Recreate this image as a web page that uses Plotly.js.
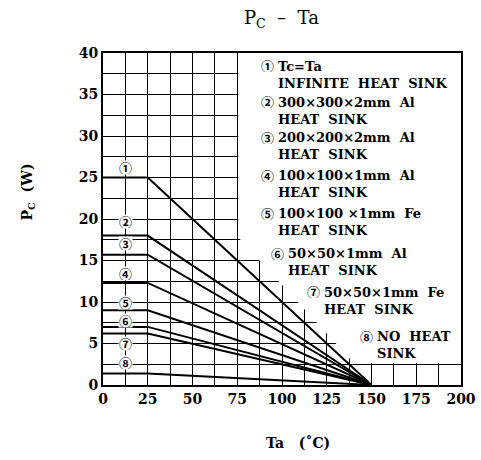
<!DOCTYPE html>
<html>
<head>
<meta charset="utf-8">
<script src="https://cdn.plot.ly/plotly-3.0.1.min.js"></script>
<style>html,body{margin:0;padding:0;background:#fff;}</style>
</head>
<body>
<div id="chart" style="width:481px;height:460px;"></div>
<script>
// Data
const ta = [0, 25, 150];
const pcInfinite = [25, 25, 0];
const pcAl300 = [18, 18, 0];
const pcAl200 = [15.7, 15.7, 0];
const pcAl100 = [12.3, 12.3, 0];
const pcFe100 = [9, 9, 0];
const pcAl50 = [7, 7, 0];
const pcFe50 = [6.2, 6.2, 0];
const pcNoSink = [1.4, 1.4, 0];
const seriesValues = [pcInfinite, pcAl300, pcAl200, pcAl100, pcFe100, pcAl50, pcFe50, pcNoSink];
const markers = ['①','②','③','④','⑤','⑥','⑦','⑧'];
const markerY = [26.2, 19.7, 17.1, 13.4, 10.0, 7.8, 5.0, 2.7];
const legendLine1 = ['Tc=Ta', '300×300×2mm\u00a0\u00a0Al', '200×200×2mm\u00a0\u00a0Al', '100×100×1mm\u00a0\u00a0Al',
  '100×100\u00a0×1mm\u00a0\u00a0Fe', '50×50×1mm\u00a0\u00a0Al', '50×50×1mm\u00a0\u00a0Fe', 'NO\u00a0\u00a0HEAT'];
const legendLine2 = ['INFINITE\u00a0\u00a0HEAT\u00a0\u00a0SINK', 'HEAT\u00a0\u00a0SINK', 'HEAT\u00a0\u00a0SINK', 'HEAT\u00a0\u00a0SINK',
  'HEAT\u00a0\u00a0SINK', 'HEAT\u00a0\u00a0SINK', 'HEAT\u00a0\u00a0SINK', 'SINK'];
const legendX = [96.8, 96.8, 96.8, 96.8, 96.8, 102.0, 122.6, 151.8];
const legendY = [37.4, 33.07, 28.81, 24.23, 19.61, 14.80, 10.18, 4.80];
const xTickVals = [0, 25, 50, 75, 100, 125, 150, 175, 200];
const yTickVals = [0, 5, 10, 15, 20, 25, 30, 35, 40];

const serif = 'DejaVu Serif, Liberation Serif, serif';
const circFont = 'Noto Sans CJK JP, Noto Sans CJK SC, DejaVu Sans, sans-serif';

const traces = seriesValues.map(v => ({
  x: ta, y: v, type: 'scatter', mode: 'lines',
  line: {color: '#000', width: 2}, hoverinfo: 'skip', showlegend: false
}));

const annotations = [];
markers.forEach((m, i) => {
  annotations.push({
    x: 12.5, y: markerY[i], xref: 'x', yref: 'y', text: m, showarrow: false,
    font: {family: circFont, size: 13, color: '#000', weight: 'bold'},
    bgcolor: '#fff', borderpad: 0, height: 13, width: 13
  });
  annotations.push({
    x: legendX[i], y: legendY[i], xref: 'x', yref: 'y', xanchor: 'left', yanchor: 'middle',
    align: 'left', text: legendLine1[i] + '<br>' + legendLine2[i], showarrow: false,
    font: {family: serif, size: 13, color: '#000', weight: 'bold'}
  });
  annotations.push({
    x: legendX[i], y: legendY[i] + 1.07, xref: 'x', yref: 'y', xanchor: 'right', yanchor: 'middle',
    text: m, showarrow: false, xshift: 0, height: 13,
    font: {family: circFont, size: 13, color: '#000', weight: 'bold'}
  });
});
annotations.push({
  x: -0.24, y: 0.58, xref: 'paper', yref: 'paper', textangle: -90, showarrow: false,
  text: 'P<sub>C</sub>\u00a0\u00a0(W)', font: {family: serif, size: 14, color: '#000', weight: 'bold'}
});
annotations.push({
  x: 0.544, y: -0.205, xref: 'paper', yref: 'paper', showarrow: false,
  text: 'Ta\u00a0\u00a0\u00a0(˚C)', font: {family: serif, size: 14, color: '#000', weight: 'bold'}
});

const mask = {
  type: 'path', layer: 'between', xref: 'x', yref: 'y',
  path: 'M 75.6 40 L 200 40 L 200 2.62 L 140.3 2.62 L 76.8 17.5 L 75.6 17.8 Z',
  fillcolor: '#fff', line: {width: 0}
};

const layout = {
  width: 481, height: 460,
  margin: {l: 103, r: 20, t: 53, b: 75},
  paper_bgcolor: '#fff', plot_bgcolor: '#fff',
  title: {text: 'P<sub>C</sub>\u00a0\u00a0\u2013\u00a0\u00a0Ta', x: 0.585, xanchor: 'center', y: 0.962, yanchor: 'middle', yref: 'container',
    font: {family: serif, size: 18, color: '#000'}},
  xaxis: {range: [0, 200], tickvals: xTickVals, ticks: '', showgrid: true, gridcolor: '#000', gridwidth: 1,
    minor: {dtick: 12.5, tick0: 0, showgrid: true, gridcolor: '#000', gridwidth: 1},
    showline: true, linecolor: '#000', linewidth: 2, mirror: true, zeroline: false,
    tickfont: {family: serif, size: 14, color: '#000', weight: 'bold'}, fixedrange: true},
  yaxis: {range: [0, 40], tickvals: yTickVals, ticks: '', showgrid: true, gridcolor: '#000', gridwidth: 1,
    minor: {dtick: 2.5, tick0: 0, showgrid: true, gridcolor: '#000', gridwidth: 1},
    showline: true, linecolor: '#000', linewidth: 2, mirror: true, zeroline: false,
    tickfont: {family: serif, size: 14, color: '#000', weight: 'bold'}, fixedrange: true},
  shapes: [mask],
  annotations: annotations,
  showlegend: false
};

Plotly.newPlot('chart', traces, layout, {displayModeBar: false, staticPlot: true});
</script>
</body>
</html>
